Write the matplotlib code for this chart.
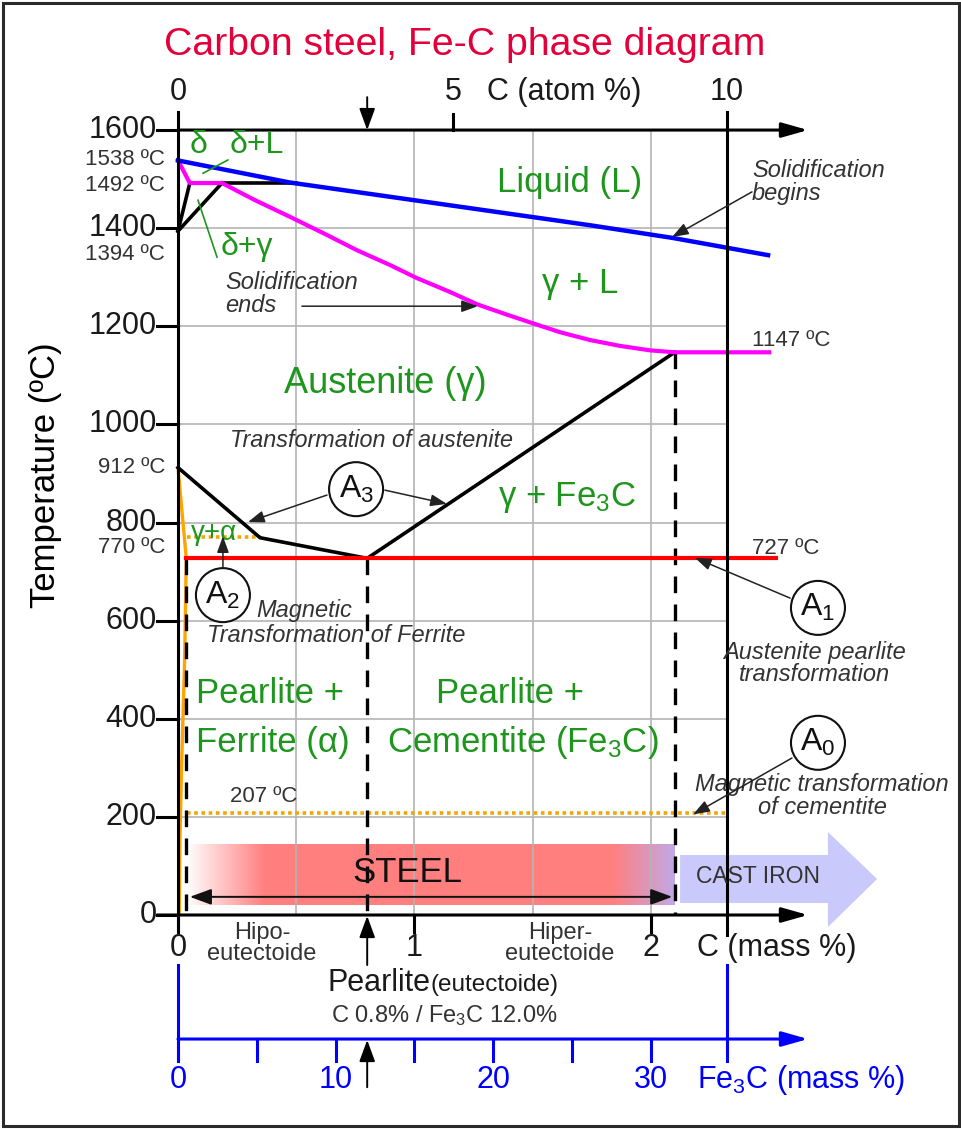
import matplotlib
matplotlib.use('Agg')
import matplotlib.pyplot as plt
import numpy as np
from matplotlib.patches import Ellipse, Polygon, Rectangle

plt.rcParams['font.family'] = ['Liberation Sans', 'DejaVu Sans']
plt.rcParams['mathtext.fontset'] = 'custom'
plt.rcParams['mathtext.rm'] = 'Liberation Sans'
plt.rcParams['mathtext.it'] = 'Liberation Sans:italic'
plt.rcParams['mathtext.bf'] = 'Liberation Sans:bold'

# ------------------------------------------------------------------ data
temp_ticks = [0, 200, 400, 600, 800, 1000, 1200, 1400, 1600]
mass_ticks = [0, 1, 2]
atom_tick_labels = ['0', '5', '10']
atom_tick_pos = [0.0, 1.163, 2.321]          # position on the mass-% C scale
fe3c_ticks = [0, 5, 10, 15, 20, 25, 30]
fe3c_labelled = [0, 10, 20, 30]
fe3c_per_c = 12.0 / 0.8                      # Fe3C % per C %
grid_x = [0.5, 1.0, 1.5, 2.0]
grid_T = [200, 400, 600, 800, 1000, 1200, 1400]

liquidus_C = [0, 0.474, 1.742, 2.093, 2.495]
liquidus_T = [1538, 1493, 1406, 1380, 1345]

solidus_C = [0, 0.05, 0.186, 0.326, 0.474, 0.622, 0.757, 0.896, 1.011, 1.150, 1.264,
             1.383, 1.501, 1.615, 1.742, 1.869, 1.996, 2.1, 2.5]
solidus_T = [1538, 1492, 1492, 1457, 1423, 1388, 1355, 1325, 1298, 1270, 1245,
             1225, 1206, 1188, 1172, 1160, 1151, 1147, 1147]

peritectic_C = [0.05, 0.5]
peritectic_T = [1492, 1492]
delta_C = [0, 0.05]
delta_T = [1394, 1492]
gamma_d_C = [0, 0.186]
gamma_d_T = [1394, 1492]
a3_C = [0, 0.347, 0.8]
a3_T = [912, 769, 727]
acm_C = [0.8, 2.1]
acm_T = [727, 1147]
eutectoid_C = [0.035, 2.53]
eutectoid_T = [727, 727]
alpha_C = [0, 0.035, 0.028, 0.015, 0.008, 0.005]
alpha_T = [912, 727, 520, 300, 150, 0]
a2_C = [0.04, 0.35]
a2_T = [770, 770]
a0_C = [0.04, 2.32]
a0_T = [207, 207]
dashed_C = [0.035, 0.8, 2.1]
dashed_top_T = [727, 727, 1147]
steel_range = [0.035, 2.1]
cast_iron_line = 2.321

# ------------------------------------------------------------------ figure
fig = plt.figure(figsize=(9.62, 11.29), dpi=100)
ax = fig.add_axes([0, 0, 1, 1])
ax.set_xlim(-0.7526, 3.3150)
ax.set_ylim(-436.2, 1865.1)
ax.axis('off')

PXX = 1 / 236.5     # data units per pixel, x
PXY = 1 / 0.4906    # data units per pixel, y

GREEN = '#1E961E'
ANN = '#333333'
BLUE = '#0000FF'
AX_FS = 22

fig.patches.append(Rectangle((0.003, 0.003), 0.994, 0.994, transform=fig.transFigure,
                             fill=False, edgecolor='#2a2a2a', lw=2.2))

# grid
for gx in grid_x:
    ax.plot([gx, gx], [0, 1600], color='#b4b4b4', lw=1.2, zorder=2)
for gT in grid_T:
    ax.plot([0, cast_iron_line], [gT, gT], color='#b4b4b4', lw=1.2, zorder=2)

# steel gradient bar
n = 400
xs = np.linspace(steel_range[0], steel_range[1], n)
red = np.array([1.0, 0.5, 0.5])
lav = np.array([0.76, 0.66, 0.90])
rgba = np.zeros((1, n, 4))
for i, xv in enumerate(xs):
    a = np.clip((xv - steel_range[0]) / 0.33, 0, 1)
    t = np.clip((xv - 1.84) / 0.26, 0, 1)
    col = red * (1 - t) + lav * t
    rgba[0, i, :3] = col
    rgba[0, i, 3] = a
ax.imshow(rgba, extent=[steel_range[0], steel_range[1], 20, 143], aspect='auto',
          zorder=1, interpolation='bilinear')

# cast iron arrow
ci = Polygon([(2.123, 24.5), (2.748, 24.5), (2.748, -24.5), (2.956, 73.4),
              (2.748, 169.2), (2.748, 122.3), (2.123, 122.3)],
             closed=True, facecolor='#c9c9fb', edgecolor='none', zorder=1)
ax.add_patch(ci)

# phase lines
ax.plot(alpha_C, alpha_T, color='#FFA500', lw=2.4, zorder=4, solid_capstyle='butt')
ax.plot(a2_C, a2_T, color='#F5A500', lw=2.6, ls=(0, (1, 1)), zorder=4)
ax.plot(a0_C, a0_T, color='#F5A500', lw=2.6, ls=(0, (1, 1)), zorder=4)
for c, t in zip(dashed_C, dashed_top_T):
    ax.plot([c, c], [t, 0], color='k', lw=2.4, ls=(0, (5, 3.4)), zorder=4)
ax.plot(peritectic_C, peritectic_T, color='k', lw=2.6, zorder=4)
ax.plot(delta_C, delta_T, color='k', lw=2.6, zorder=4)
ax.plot(gamma_d_C, gamma_d_T, color='k', lw=2.6, zorder=4)
ax.plot(a3_C, a3_T, color='k', lw=2.6, zorder=5, solid_joinstyle='miter')
ax.plot(acm_C, acm_T, color='k', lw=2.6, zorder=5)
ax.plot(eutectoid_C, eutectoid_T, color='#FF0000', lw=3.0, zorder=5)
ax.plot(solidus_C, solidus_T, color='#FF00FF', lw=3.0, zorder=5, solid_joinstyle='round')
ax.plot(liquidus_C, liquidus_T, color=BLUE, lw=3.2, zorder=6, solid_joinstyle='round')

# axes: left
ax.plot([0, 0], [-31, 1637], color='k', lw=2.2, zorder=7)
for t in temp_ticks:
    ax.plot([-21 * PXX, 0], [t, t], color='k', lw=2.2, zorder=7)
    ax.text(-21 * PXX, t, str(t), fontsize=AX_FS, ha='right', va='center', color='#1a1a1a')
ax.text(-0.56, 897, 'Temperature (ºC)', rotation=90, fontsize=25, ha='center', va='center')
for t, lab in [(1539, '1538 ºC'), (1488, '1492 ºC'), (1347, '1394 ºC'),
               (913, '912 ºC'), (749, '770 ºC')]:
    ax.text(-0.055, t, lab, fontsize=16, ha='right', va='center', color=ANN)

# top (atom %) axis
ax.annotate('', xy=(2.664, 1600), xytext=(0, 1600),
            arrowprops=dict(arrowstyle='-|>,head_length=0.53,head_width=0.15', lw=2.2,
                            color='k', mutation_scale=30, shrinkA=0, shrinkB=0), zorder=7)
ax.plot([atom_tick_pos[1]] * 2, [1600, 1632], color='k', lw=2.2, zorder=7)
for p, lab in zip(atom_tick_pos, atom_tick_labels):
    ax.text(p, 1677, lab, fontsize=AX_FS, ha='center', va='center', color='#1a1a1a')
ax.text(1.307, 1677, 'C (atom %)', fontsize=AX_FS, ha='left', va='center', color='#1a1a1a')
ax.annotate('', xy=(0.8, 1600), xytext=(0.8, 1667),
            arrowprops=dict(arrowstyle='-|>,head_length=0.6,head_width=0.22', lw=1.4,
                            color='k', mutation_scale=22, shrinkA=0, shrinkB=0), zorder=7)

# 10 atom% vertical line
ax.plot([cast_iron_line] * 2, [-41, 1637], color='k', lw=2.2, zorder=7)

# bottom C mass % axis
ax.annotate('', xy=(2.664, 0), xytext=(-21 * PXX, 0),
            arrowprops=dict(arrowstyle='-|>,head_length=0.53,head_width=0.15', lw=2.2,
                            color='k', mutation_scale=30, shrinkA=0, shrinkB=0), zorder=7)
for m in mass_ticks:
    ax.plot([m, m], [0, -34], color='k', lw=2.2, zorder=7)
    ax.text(m, -68, str(m), fontsize=AX_FS, ha='center', va='center', color='#1a1a1a')
ax.text(2.194, -68, 'C (mass %)', fontsize=AX_FS, ha='left', va='center', color='#1a1a1a')
ax.text(0.355, -58, 'Hipo-\neutectoide', fontsize=17, ha='center', va='center',
        color=ANN, linespacing=0.95)
ax.text(1.615, -58, 'Hiper-\neutectoide', fontsize=17, ha='center', va='center',
        color=ANN, linespacing=0.95)
ax.annotate('', xy=(0.8, -2), xytext=(0.8, -102),
            arrowprops=dict(arrowstyle='-|>,head_length=0.6,head_width=0.22', lw=1.4,
                            color='k', mutation_scale=22, shrinkA=0, shrinkB=0), zorder=7)
t_pear = ax.text(0.634, -155, 'Pearlite', fontsize=AX_FS, ha='left', va='baseline',
                 color='#1a1a1a')
ax.text(1.125, -205, 'C 0.8% / Fe$_3$C 12.0%', fontsize=17, ha='center', va='center', color=ANN)

# Fe3C axis
fe_y = -252.8
ax.plot([0, 0], [-102, -297], color=BLUE, lw=2.2, zorder=7)
ax.plot([cast_iron_line] * 2, [-102, -297], color=BLUE, lw=2.2, zorder=7)
ax.annotate('', xy=(2.664, fe_y), xytext=(0, fe_y),
            arrowprops=dict(arrowstyle='-|>,head_length=0.53,head_width=0.15', lw=2.2,
                            color=BLUE, mutation_scale=30, shrinkA=0, shrinkB=0), zorder=7)
for f in fe3c_ticks:
    xc = f / fe3c_per_c
    ax.plot([xc, xc], [fe_y, -297], color=BLUE, lw=2.2, zorder=7)
for f in fe3c_labelled:
    ax.text(f / fe3c_per_c, -337, str(f), fontsize=AX_FS, ha='center', va='center', color=BLUE)
ax.text(2.194, -337, 'Fe$_3$C (mass %)', fontsize=AX_FS, ha='left', va='center', color=BLUE)
ax.annotate('', xy=(0.8, fe_y - 2), xytext=(0.8, -351),
            arrowprops=dict(arrowstyle='-|>,head_length=0.6,head_width=0.22', lw=1.4,
                            color='k', mutation_scale=22, shrinkA=0, shrinkB=0), zorder=8)

# title
ax.text(1.214, 1773, 'Carbon steel, Fe-C phase diagram', fontsize=28.3, color='#E3003A',
        ha='center', va='center')

# phase labels (green)
def g(x, T, s, size=25):
    ax.text(x, T, s, fontsize=size, color=GREEN, ha='center', va='center', zorder=9)

g(0.085, 1569, 'δ', 23)
g(0.334, 1569, 'δ+L', 23)
g(0.292, 1362, 'δ+γ', 23)
g(1.657, 1494, 'Liquid (L)')
g(1.70, 1288, 'γ + L')
g(0.875, 1084, 'Austenite (γ)', 26)
g(1.645, 852, 'γ + Fe$_3$C')
g(0.152, 779, 'γ+α', 20)
g(0.389, 452, 'Pearlite +')
g(0.402, 351, 'Ferrite (α)')
g(1.404, 452, 'Pearlite +')
g(1.459, 351, 'Cementite (Fe$_3$C)')
ax.plot([0.106, 0.211], [1512, 1539], color=GREEN, lw=1.2, zorder=8)
ax.plot([0.165, 0.0846], [1341, 1457], color=GREEN, lw=1.2, zorder=8)

# italic annotations
def it(x, T, s, size=17, ha='center'):
    ax.text(x, T, s, fontsize=size, color=ANN, ha=ha, va='center', fontstyle='italic',
            linespacing=0.98, zorder=9)

def arr(x0, T0, x1, T1):
    ax.annotate('', xy=(x1, T1), xytext=(x0, T0),
                arrowprops=dict(arrowstyle='-|>,head_length=0.55,head_width=0.2', lw=1.1,
                                color='#222222', mutation_scale=18, shrinkA=0, shrinkB=0),
                zorder=9)

it(2.427, 1494, 'Solidification\nbegins', ha='left')
arr(2.427, 1474, 2.089, 1382)
it(0.199, 1266, 'Solidification\nends', ha='left')
arr(0.524, 1241, 1.268, 1241)
it(0.82, 968, 'Transformation of austenite', 16.8)
it(0.33, 620, 'Magnetic', ha='left')
it(0.123, 569, 'Transformation of Ferrite', ha='left')
it(2.693, 513, 'Austenite pearlite\ntransformation')
it(2.723, 242, 'Magnetic transformation\nof cementite')
arr(0.63, 856, 0.296, 801)
arr(0.875, 866, 1.137, 838)
arr(0.19, 709, 0.19, 772)
arr(2.588, 646, 2.186, 728)
arr(2.596, 320, 2.178, 205)

# temperatures (plain)
for x, T, s in [(2.427, 1172, '1147 ºC'), (2.427, 748, '727 ºC'), (0.22, 241, '207 ºC')]:
    ax.text(x, T, s, fontsize=16, color=ANN, ha='left', va='center')

# circled labels
R = 27
for x, T, sub in [(0.753, 868, '3'), (0.19, 652, '2'), (2.706, 626, '1'), (2.706, 351, '0')]:
    ax.add_patch(Ellipse((x, T), 2 * R * PXX, 2 * R * PXY, facecolor='white',
                         edgecolor='#111111', lw=1.5, zorder=10))
    ax.text(x, T, 'A$_{' + sub + '}$', fontsize=23, ha='center', va='center',
            color='#111111', zorder=11)

# steel bar contents
ax.text(0.968, 86, 'STEEL', fontsize=25, ha='center', va='center', color='#111111', zorder=9)
ax.annotate('', xy=(steel_range[1] - 0.01, 37), xytext=(steel_range[0] + 0.015, 37),
            arrowprops=dict(arrowstyle='<|-|>,head_length=0.6,head_width=0.22', lw=1.4,
                            color='#111111', mutation_scale=22, shrinkA=0, shrinkB=0), zorder=9)
ax.text(2.452, 78, 'CAST IRON', fontsize=16.5, ha='center', va='center', color='#333333', zorder=9)

# "(eutectoide)" right after "Pearlite"
fig.canvas.draw()
bb = t_pear.get_window_extent(renderer=fig.canvas.get_renderer())
xe, _ = ax.transData.inverted().transform((bb.x1, bb.y0))
ax.text(xe, -155, '(eutectoide)', fontsize=17.5, ha='left', va='baseline', color='#1a1a1a')

fig.savefig('out.png', dpi=100)
